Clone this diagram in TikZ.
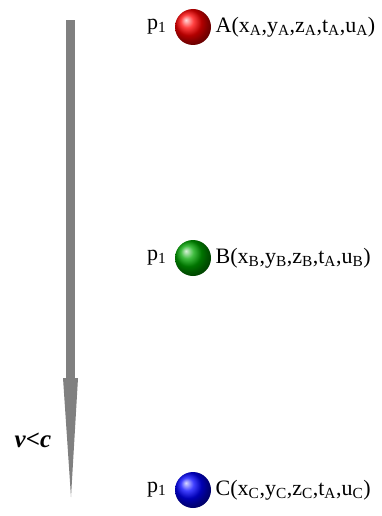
\documentclass[tikz,border=0pt]{standalone}
\usepackage{fontspec}
\setmainfont{Liberation Serif}
\usetikzlibrary{positioning}

\begin{document}
\begin{tikzpicture}[x=1pt,y=-1pt,font=\fontsize{22}{25}\selectfont,
  ball/.style={circle,minimum size=36pt,inner sep=0pt,ball color=#1}]
\useasboundingbox (0,0) rectangle (382,516);
\fill[gray] (66,20) rectangle (75,379);
\fill[gray] (63,378) -- (78,378) -- (71,497) -- cycle;
\node[font=\fontsize{25}{28}\selectfont\bfseries] (vc) at (33,440) {\textit{v}<\textit{c}};
\foreach \n/\y/\col in {A/27/red,B/258/green!65!black,C/490/blue}{
  \node[ball=\col] (ball\n) at (193,\y) {};
  \node[left=5pt of ball\n] (p\n) {p\textsubscript{1}};
  \node[right=1pt of ball\n] (pt\n)
    {\n(x\textsubscript{\n},y\textsubscript{\n},z\textsubscript{\n},t\textsubscript{A},u\textsubscript{\n})};
}
\end{tikzpicture}
\end{document}
